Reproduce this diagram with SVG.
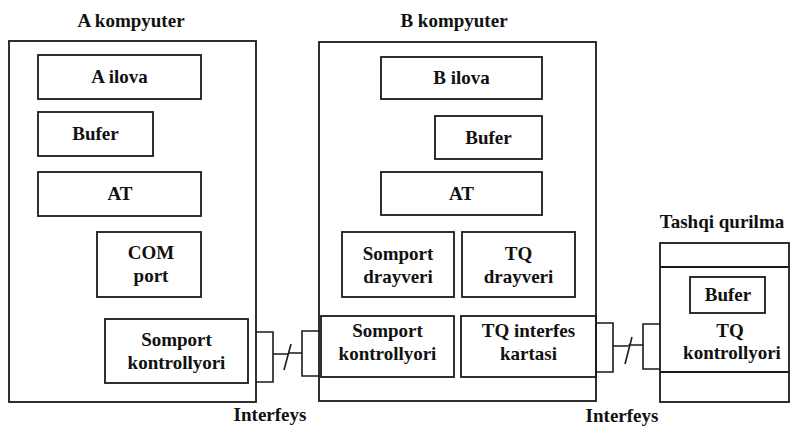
<svg xmlns="http://www.w3.org/2000/svg" width="790" height="431" viewBox="0 0 790 431">
<style>
.b{fill:none;stroke:#1a1a1a;stroke-width:1.8}
.l{fill:none;stroke:#1a1a1a;stroke-width:1.6}
text{font-family:"Liberation Serif","DejaVu Serif",serif;font-size:19px;font-weight:bold;fill:#111;text-anchor:middle}
</style>
<rect width="790" height="431" fill="#fff"/>
<g id="A-kompyuter">
<text x="131" y="27">A kompyuter</text>
<rect class="b" x="9" y="41" width="247" height="361"/>
</g>
<g id="A-ilova"><rect class="b" x="38" y="55" width="163" height="44"/><text x="119.5" y="83">A ilova</text></g>
<g id="A-bufer"><rect class="b" x="38" y="112" width="115" height="44"/><text x="95.5" y="140">Bufer</text></g>
<g id="A-AT"><rect class="b" x="38" y="172" width="163" height="44"/><text x="120" y="200">AT</text></g>
<g id="A-COM"><rect class="b" x="97" y="232" width="104" height="65"/><text x="151" y="259">COM</text><text x="151" y="282">port</text></g>
<g id="A-somport-kontroller"><rect class="b" x="105" y="319" width="143" height="64"/><text x="176.5" y="346">Somport</text><text x="176.5" y="369">kontrollyori</text></g>

<g id="B-kompyuter">
<text x="454" y="27">B kompyuter</text>
<rect class="b" x="319" y="42" width="277" height="359"/>
</g>
<g id="B-ilova"><rect class="b" x="381" y="57" width="161" height="42"/><text x="461.5" y="84">B ilova</text></g>
<g id="B-bufer"><rect class="b" x="435" y="116" width="107" height="43"/><text x="488.5" y="144">Bufer</text></g>
<g id="B-AT"><rect class="b" x="381" y="172" width="161" height="43"/><text x="461.5" y="200">AT</text></g>
<g id="B-somport-drayveri"><rect class="b" x="342" y="232" width="112" height="65"/><text x="398" y="260">Somport</text><text x="398" y="283">drayveri</text></g>
<g id="B-TQ-drayveri"><rect class="b" x="462" y="232" width="113" height="65"/><text x="518.5" y="260">TQ</text><text x="518.5" y="283">drayveri</text></g>
<g id="B-somport-kontroller"><rect class="b" x="321" y="316" width="133" height="61"/><text x="387.5" y="337">Somport</text><text x="387.5" y="360">kontrollyori</text></g>
<g id="B-TQ-interfes"><rect class="b" x="461" y="316" width="135" height="61"/><text x="528.5" y="337">TQ interfes</text><text x="528.5" y="360">kartasi</text></g>

<g id="Tashqi-qurilma">
<text x="722" y="228">Tashqi qurilma</text>
<rect class="b" x="660" y="243" width="129" height="159"/>
<line class="b" x1="660" y1="267" x2="789" y2="267"/>
<line class="b" x1="660" y1="372" x2="789" y2="372"/>
</g>
<g id="Tashqi-bufer"><rect class="b" x="690" y="277" width="75" height="36"/><text x="728" y="301">Bufer</text></g>
<g id="TQ-kontroller"><text x="730" y="337">TQ</text><text x="732" y="359">kontrollyori</text></g>

<g id="connectors">
<path class="l" d="M256,332 H273 V382 H256"/>
<path class="l" d="M273,354 H288.5 M284,370 L291,344 M288.5,353 H302"/>
<path class="l" d="M320,331 H302 V376 H320"/>
<path class="l" d="M596,323 H613 V372 H596"/>
<path class="l" d="M613,346 H628.5 M625,364 L632,337 M628.5,345 H643"/>
<path class="l" d="M660,324 H643 V369 H660"/>
</g>
<g id="labels">
<text x="270" y="421">Interfeys</text>
<text x="622" y="422">Interfeys</text>
</g>
</svg>
